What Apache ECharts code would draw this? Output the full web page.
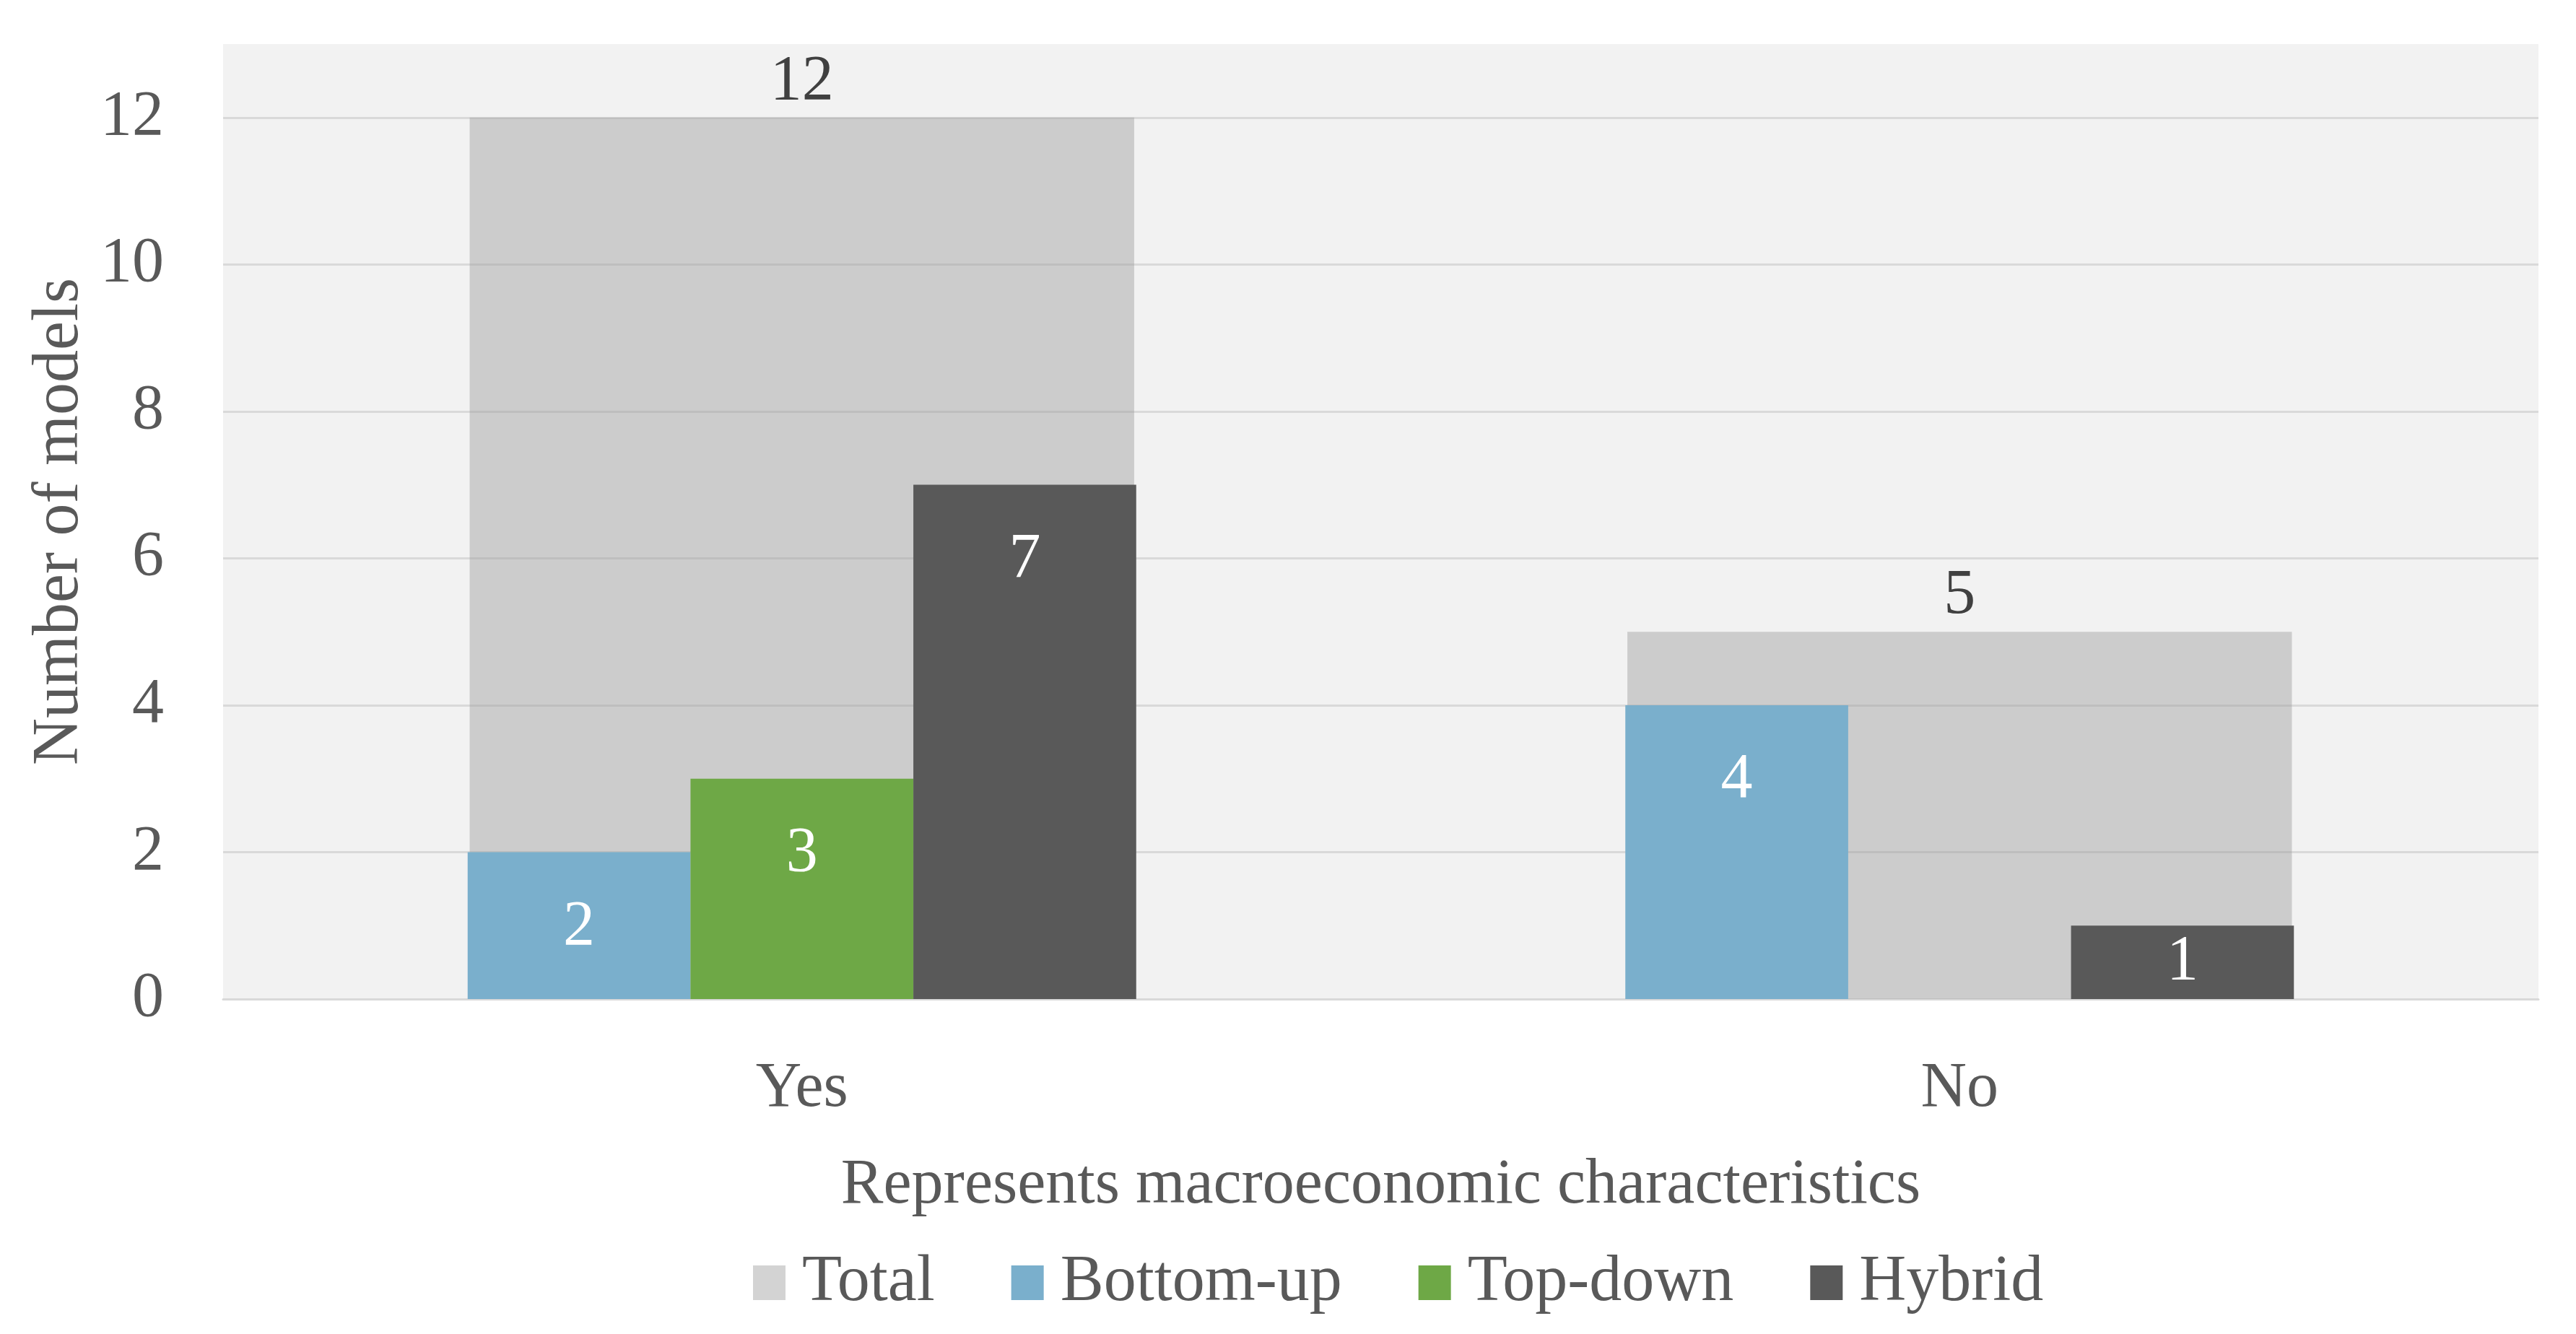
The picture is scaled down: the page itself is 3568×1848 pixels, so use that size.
<!DOCTYPE html>
<html>
<head>
<meta charset="utf-8">
<script src="https://cdn.jsdelivr.net/npm/echarts@6/dist/echarts.min.js"></script>
<style>
html,body{margin:0;padding:0;background:#fff;}
#chart{width:3568px;height:1848px;}
</style>
</head>
<body>
<div id="chart"></div>
<script>
const categories = ['Yes', 'No'];
const totalValues = [12, 5];
const bottomUpValues = [2, 4];
const topDownValues = [3, 0];
const hybridValues = [7, 1];
const yTicks = [0, 2, 4, 6, 8, 10, 12];
const seriesNames = ['Total', 'Bottom-up', 'Top-down', 'Hybrid'];

const FONT = 'Liberation Serif';
const chart = echarts.init(document.getElementById('chart'));

function subData(vals) {
  return vals.map(v => ({
    value: v,
    label: { position: v < 2 ? 'inside' : 'insideTop' }
  }));
}
const subLabel = {
  show: true,
  position: 'insideTop',
  distance: 60,
  color: '#ffffff',
  fontFamily: FONT,
  fontSize: 88,
  formatter: p => (p.value ? String(p.value) : '')
};

chart.setOption({
  backgroundColor: '#ffffff',
  animation: false,
  textStyle: { fontFamily: FONT },
  grid: {
    left: 309, right: 52, top: 61, bottom: 464,
    show: true, backgroundColor: '#f2f2f2', borderWidth: 0
  },
  legend: {
    data: seriesNames,
    left: 1038, top: 1727,
    icon: 'rect', itemWidth: 45, itemHeight: 48, itemGap: 106,
    textStyle: { fontFamily: FONT, fontSize: 90, color: '#595959', padding: [0, 0, 0, 18] }
  },
  xAxis: [{
    type: 'category',
    data: categories,
    name: 'Represents macroeconomic characteristics',
    nameLocation: 'middle',
    nameGap: 215,
    nameTextStyle: { fontFamily: FONT, fontSize: 88, color: '#595959' },
    axisLine: { show: true, lineStyle: { color: '#d9d9d9', width: 3 } },
    axisTick: { show: false },
    axisLabel: { margin: 81, fontFamily: FONT, fontSize: 88, color: '#595959' }
  }, {
    type: 'category',
    data: categories,
    show: false
  }],
  yAxis: {
    type: 'value',
    min: 0, max: 13, interval: 2,
    name: 'Number of models',
    nameLocation: 'middle',
    nameGap: 178,
    nameTextStyle: { fontFamily: FONT, fontSize: 90, color: '#595959' },
    axisLine: { show: false },
    axisTick: { show: false },
    axisLabel: {
      margin: 82, fontFamily: FONT, fontSize: 88, color: '#595959',
      showMaxLabel: false,
      formatter: v => (yTicks.indexOf(v) >= 0 ? String(v) : '')
    },
    splitLine: { show: true, showMaxLine: false, lineStyle: { color: '#d9d9d9', width: 3 } }
  },
  series: [{
    name: 'Total',
    type: 'bar',
    xAxisIndex: 1,
    data: totalValues,
    barWidth: '57.4%',
    itemStyle: { color: 'rgba(160,160,160,0.46)' },
    label: { show: true, position: 'top', distance: 5, color: '#404040', fontFamily: FONT, fontSize: 88 },
    z: 1
  }, {
    name: 'Bottom-up',
    type: 'bar',
    data: subData(bottomUpValues),
    barWidth: '19.25%',
    barGap: '0%',
    itemStyle: { color: '#7aafcc' },
    label: subLabel,
    z: 2
  }, {
    name: 'Top-down',
    type: 'bar',
    data: subData(topDownValues),
    barWidth: '19.25%',
    barGap: '0%',
    itemStyle: { color: '#6ea846' },
    label: subLabel,
    z: 2
  }, {
    name: 'Hybrid',
    type: 'bar',
    data: subData(hybridValues),
    barWidth: '19.25%',
    barGap: '0%',
    itemStyle: { color: '#595959' },
    label: subLabel,
    z: 2
  }]
});
</script>
</body>
</html>
